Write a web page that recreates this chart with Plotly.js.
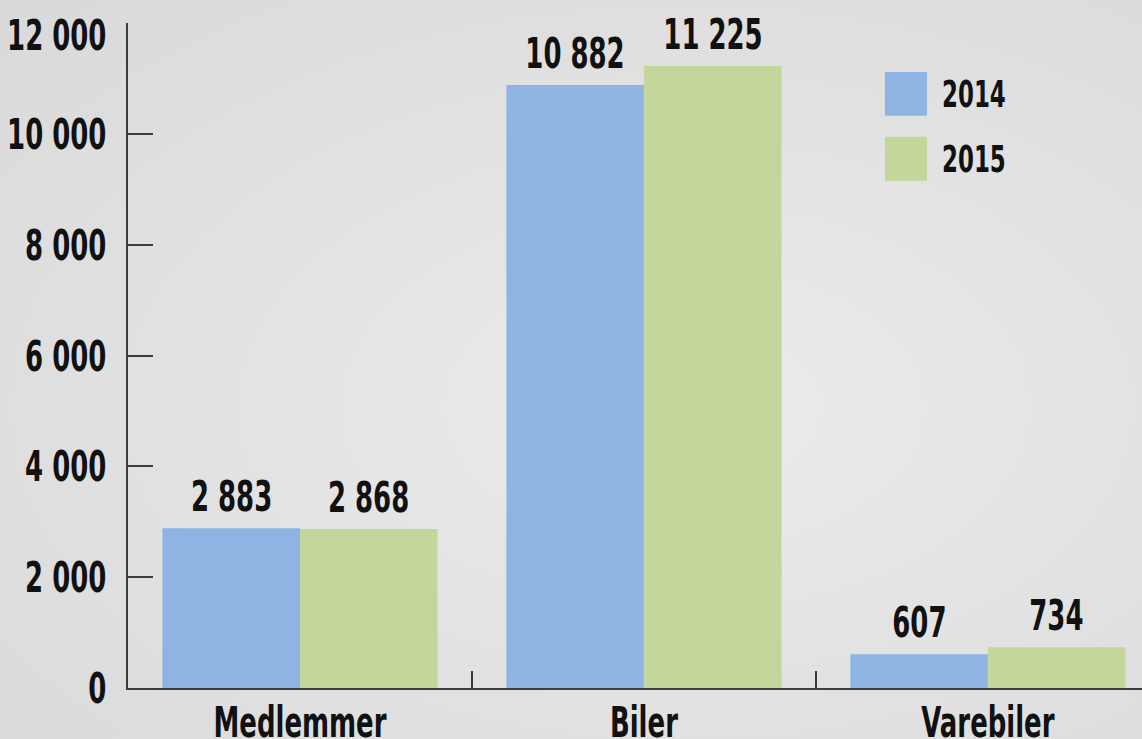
<!DOCTYPE html>
<html>
<head>
<meta charset="utf-8">
<script src="https://cdn.plot.ly/plotly-3.0.1.min.js"></script>
<style>
  html, body { margin: 0; padding: 0; }
  body {
    width: 1142px; height: 739px; overflow: hidden;
    background: radial-gradient(ellipse at 60% 55%, #ececec 0%, #e3e3e3 45%, #d9d9d9 100%);
  }
  #chart { width: 1142px; height: 739px; }
</style>
</head>
<body>
<div id="chart"></div>
<script>
// ---- data ----
const categories = ["Medlemmer", "Biler", "Varebiler"];
const seriesNames = ["2014", "2015"];
const values2014 = [2883, 10882, 607];
const values2015 = [2868, 11225, 734];
const yTickVals = [0, 2000, 4000, 6000, 8000, 10000, 12000];

// ---- style ----
const FONT = "'DejaVu Sans Condensed', 'DejaVu Sans', sans-serif";
const colors = ["#8eb4e3", "#c3d69b"];
const axisColor = "#3c3c3c";
const FS = 43;

function fmt(v) { return String(v).replace(/\B(?=(\d{3})+(?!\d))/g, " "); }

const allSeries = [values2014, values2015];
const offsets = [-0.2, 0.2];

const traces = allSeries.map((vals, s) => ({
  type: "bar",
  name: seriesNames[s],
  x: categories,
  y: vals,
  marker: { color: colors[s], line: { width: 0 } },
  showlegend: false,
  hoverinfo: "x+y+name"
}));

const annotations = [];
allSeries.forEach((vals, s) => {
  vals.forEach((v, i) => {
    annotations.push({
      x: i + offsets[s], y: v, xref: "x", yref: "y",
      text: fmt(v), showarrow: false, yanchor: "bottom", yshift: 5,
      font: { family: FONT, size: FS, color: "#111", weight: "bold" }
    });
  });
});

// legend built from series names
const legendY = [0.8934, 0.7958];
const shapes = [];
seriesNames.forEach((n, s) => {
  shapes.push({
    type: "rect", xref: "paper", yref: "paper",
    x0: 0.7465, x1: 0.7880, y0: legendY[s] - 0.033, y1: legendY[s] + 0.033,
    fillcolor: colors[s], line: { width: 0 }
  });
  annotations.push({
    xref: "paper", yref: "paper", x: 0.8008, y: legendY[s],
    xanchor: "left", yanchor: "middle", align: "left", text: n, showarrow: false,
    font: { family: FONT, size: 38, color: "#111", weight: "bold" }
  });
});

const layout = {
  width: 1142, height: 739,
  margin: { l: 128, r: 0, t: 23, b: 51, pad: 0 },
  paper_bgcolor: "rgba(0,0,0,0)",
  plot_bgcolor: "rgba(0,0,0,0)",
  separators: ", ",
  barmode: "group",
  bargap: 0.2,
  bargroupgap: 0,
  font: { family: FONT, color: "#111", weight: "bold" },
  xaxis: {
    type: "category",
    range: [-0.5, 2.448],
    showline: true, linecolor: axisColor, linewidth: 2,
    ticks: "inside", tickson: "boundaries", ticklen: 17, tickwidth: 2, tickcolor: axisColor,
    showgrid: false, zeroline: false,
    tickfont: { family: FONT, size: FS, color: "#111", weight: "bold" },
    ticklabelstandoff: -5,
    ticklabeloverflow: "allow"
  },
  yaxis: {
    range: [0, 12000],
    tickvals: yTickVals,
    tickformat: ",d",
    showline: true, linecolor: axisColor, linewidth: 2,
    ticks: "inside", ticklen: 25, tickwidth: 2, tickcolor: axisColor,
    showgrid: false, zeroline: false,
    tickfont: { family: FONT, size: FS, color: "#111", weight: "bold" },
    ticklabelstandoff: 11,
    ticklabeloverflow: "allow"
  },
  shapes: shapes,
  annotations: annotations
};

// Condense all text horizontally (reference uses a narrow display face)
function condense() {
  const texts = Array.from(document.querySelectorAll("#chart .main-svg text"));
  let factor = 0.69;
  const ref = texts.find(t => t.textContent === categories[0]);
  if (ref) {
    const L = ref.getComputedTextLength();
    if (L > 0) factor = 173 / L;
  }
  texts.forEach(t => {
    const L = t.getComputedTextLength();
    if (L > 0) {
      t.setAttribute("textLength", (L * factor).toFixed(1));
      t.setAttribute("lengthAdjust", "spacingAndGlyphs");
    }
  });
  // top tick label sits a little below its tick in the reference so it is not clipped
  const topLabel = fmt(yTickVals[yTickVals.length - 1]);
  document.querySelectorAll("#chart .ytick text").forEach(t => {
    if (t.textContent === topLabel) {
      const y = parseFloat(t.getAttribute("y") || "0");
      t.setAttribute("y", (y + 12).toFixed(1));
    }
  });
}

Plotly.newPlot("chart", traces, layout, { displayModeBar: false, staticPlot: true }).then(condense);
</script>
</body>
</html>
